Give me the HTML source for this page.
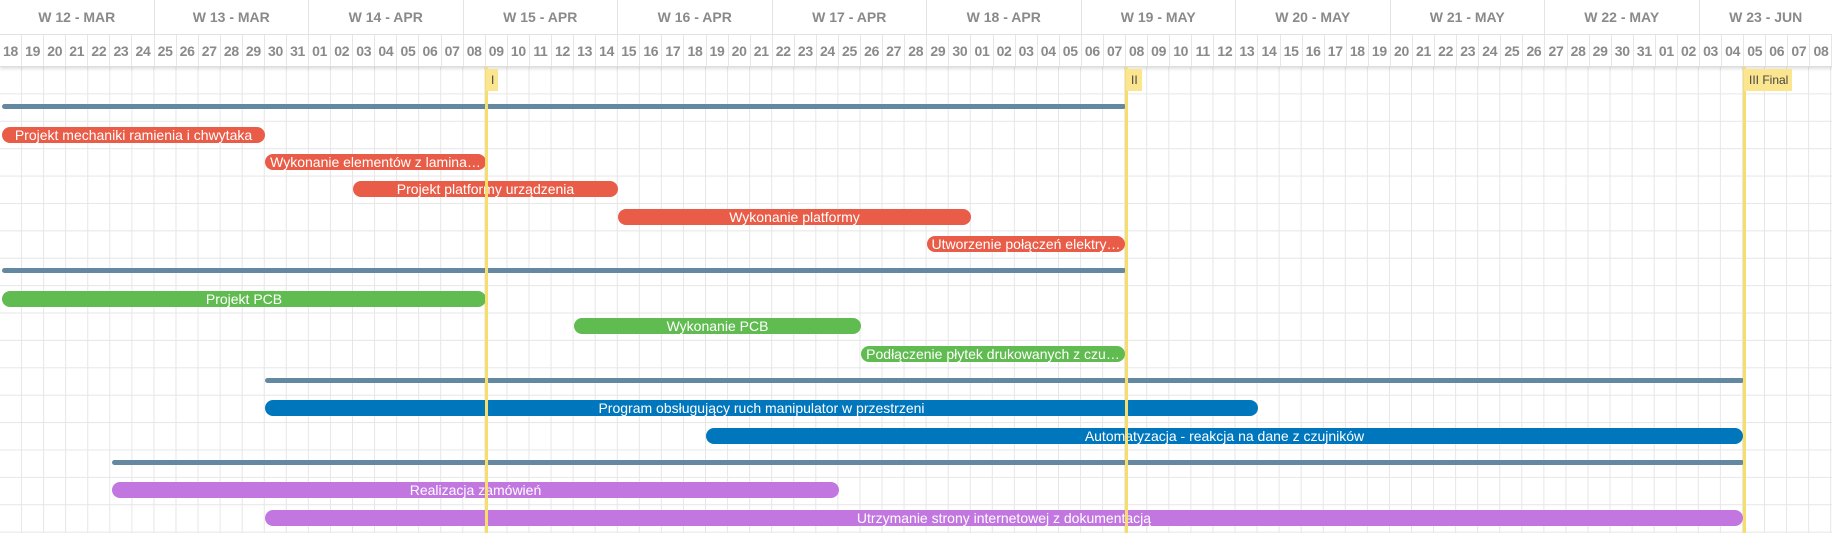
<!DOCTYPE html>
<html><head><meta charset="utf-8"><style>
*{margin:0;padding:0;box-sizing:border-box}
body{width:1832px;height:533px;overflow:hidden;background:#fff;font-family:"Liberation Sans",sans-serif;position:relative}
.grid{position:absolute;left:0;top:67px;width:1832px;height:466px;
background-image:linear-gradient(to right,#e6e6e6 1px,transparent 1px),linear-gradient(to bottom,#e6e6e6 1px,transparent 1px);
background-size:22.072px 100%,100% 27.4px;background-position:-1px 0,0 -1px}
.wk{position:absolute;top:0;left:0;height:35px;display:flex;border-bottom:1px solid #e3e3e3;width:1832px}
.wk div{height:35px;border-right:1px solid #e3e3e3;color:#8a8a8a;font-weight:bold;font-size:14px;line-height:35px;text-align:center;white-space:nowrap;overflow:hidden}
.dy{position:absolute;top:35px;left:0;height:32px;width:1832px;display:flex;box-shadow:0 2px 3px rgba(0,0,0,.12);background:#fff;border-bottom:1px solid #ddd}
.dy span{flex:1;border-right:1px solid #e6e6e6;color:#8a8a8a;font-weight:bold;font-size:14px;line-height:32px;text-align:center;letter-spacing:-0.3px}
.ml{position:absolute;top:67px;width:3px;height:466px;background:#f7de6a}
.mt{position:absolute;top:69px;height:22px;background:#fbe68f;color:#444;font-size:12px;line-height:22px;padding:0 4px 0 5px}
.b{position:absolute;height:16px;border-radius:8px;color:#fff;font-size:14px;line-height:16px;text-align:center;white-space:nowrap;overflow:hidden;text-overflow:ellipsis;padding:0 3px}
.s{position:absolute;height:5px;border-radius:3px;background:#6588a2}
.r{background:#e95c47}.g{background:#60bb50}.bl{background:#0077bd}.p{background:#c277e0}
</style></head><body>
<div class="grid"></div>
<div class="wk">
<div style="width:154.5px">W 12 - MAR</div><div style="width:154.5px">W 13 - MAR</div><div style="width:154.5px">W 14 - APR</div><div style="width:154.5px">W 15 - APR</div><div style="width:154.5px">W 16 - APR</div><div style="width:154.5px">W 17 - APR</div><div style="width:154.5px">W 18 - APR</div><div style="width:154.5px">W 19 - MAY</div><div style="width:154.5px">W 20 - MAY</div><div style="width:154.5px">W 21 - MAY</div><div style="width:154.5px">W 22 - MAY</div><div style="width:132.4px;border-right:none">W 23 - JUN</div>
</div>
<div class="dy">
<span>18</span><span>19</span><span>20</span><span>21</span><span>22</span><span>23</span><span>24</span><span>25</span><span>26</span><span>27</span><span>28</span><span>29</span><span>30</span><span>31</span>
<span>01</span><span>02</span><span>03</span><span>04</span><span>05</span><span>06</span><span>07</span><span>08</span><span>09</span><span>10</span><span>11</span><span>12</span><span>13</span><span>14</span><span>15</span><span>16</span><span>17</span><span>18</span><span>19</span><span>20</span><span>21</span><span>22</span><span>23</span><span>24</span><span>25</span><span>26</span><span>27</span><span>28</span><span>29</span><span>30</span>
<span>01</span><span>02</span><span>03</span><span>04</span><span>05</span><span>06</span><span>07</span><span>08</span><span>09</span><span>10</span><span>11</span><span>12</span><span>13</span><span>14</span><span>15</span><span>16</span><span>17</span><span>18</span><span>19</span><span>20</span><span>21</span><span>22</span><span>23</span><span>24</span><span>25</span><span>26</span><span>27</span><span>28</span><span>29</span><span>30</span><span>31</span>
<span>01</span><span>02</span><span>03</span><span>04</span><span>05</span><span>06</span><span>07</span><span>08</span>
</div>

<div class="s" style="left:2px;width:1124px;top:104px"></div>
<div class="b r" style="left:2px;width:263px;top:127px">Projekt mechaniki ramienia i chwytaka</div>
<div class="b r" style="left:265px;width:221px;top:154px">Wykonanie elementów z lamina…</div>
<div class="b r" style="left:353px;width:265px;top:181px">Projekt platformy urządzenia</div>
<div class="b r" style="left:618px;width:353px;top:209px">Wykonanie platformy</div>
<div class="b r" style="left:927px;width:198px;top:236px">Utworzenie połączeń elektry…</div>
<div class="s" style="left:2px;width:1124px;top:268px"></div>
<div class="b g" style="left:2px;width:484px;top:291px">Projekt PCB</div>
<div class="b g" style="left:574px;width:287px;top:318px">Wykonanie PCB</div>
<div class="b g" style="left:861px;width:264px;top:346px">Podłączenie płytek drukowanych z czu…</div>
<div class="s" style="left:265px;width:1479px;top:378px"></div>
<div class="b bl" style="left:265px;width:993px;top:400px">Program obsługujący ruch manipulator w przestrzeni</div>
<div class="b bl" style="left:706px;width:1037px;top:428px">Automatyzacja - reakcja na dane z czujników</div>
<div class="s" style="left:112px;width:1632px;top:460px"></div>
<div class="b p" style="left:112px;width:727px;top:482px">Realizacja zamówień</div>
<div class="b p" style="left:265px;width:1478px;top:510px">Utrzymanie strony internetowej z dokumentacją</div>

<div class="ml" style="left:485px"></div><div class="mt" style="left:486px">I</div>
<div class="ml" style="left:1125px"></div><div class="mt" style="left:1126px">II</div>
<div class="ml" style="left:1743px"></div><div class="mt" style="left:1744px">III Final</div>
</body></html>
